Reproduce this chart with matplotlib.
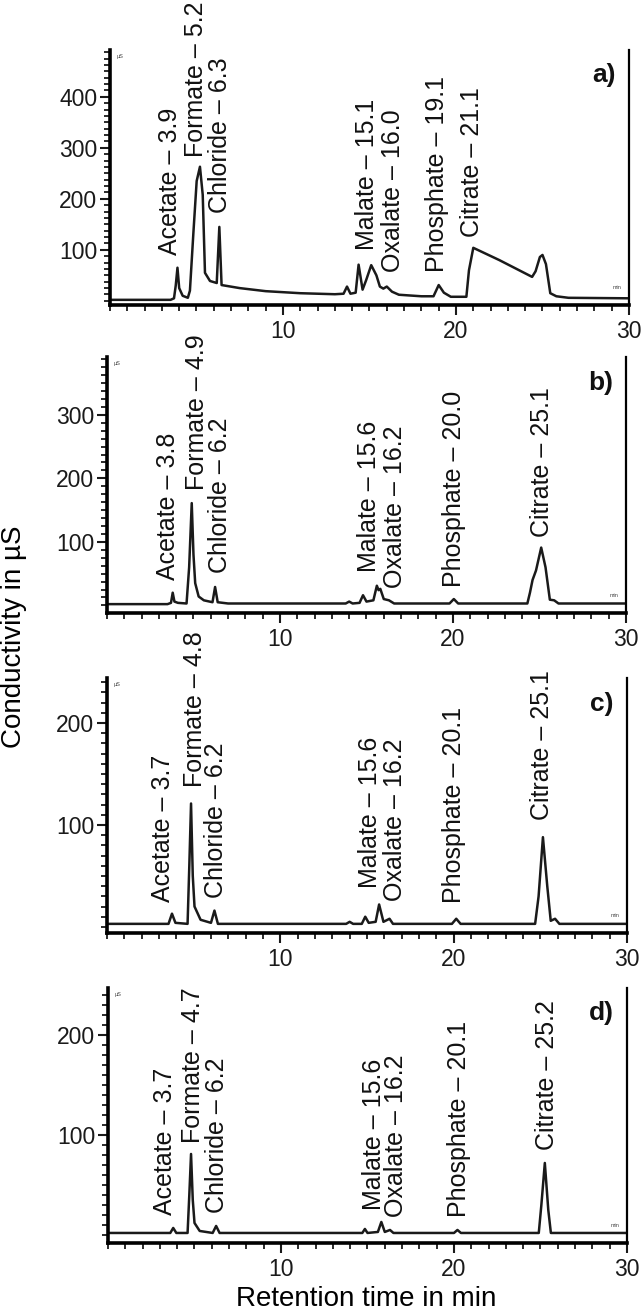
import matplotlib.pyplot as plt
from matplotlib.ticker import MultipleLocator

plt.rcParams['font.family'] = ['Liberation Sans', 'DejaVu Sans']

# trace vertices: retention time (min), conductivity (µS)
time_a = [0, 3.5, 3.7, 3.8, 3.9, 4.0, 4.2, 4.5, 4.62, 4.82, 5.01, 5.2, 5.36, 5.49,
          5.78, 6.17, 6.32, 6.45, 7.5, 9.0, 11.0, 13.0, 13.5, 13.7, 13.9, 14.2,
          14.37, 14.6, 14.8, 15.1, 15.4, 15.6, 15.8, 16.0, 16.3, 16.7, 18.0, 18.7,
          19.0, 19.3, 19.7, 20.6, 20.75, 21.0, 22.5, 24.4, 24.6, 24.85, 25.0, 25.2,
          25.45, 25.8, 26.5, 30]
cond_a = [2, 2, 5, 30, 65, 25, 10, 6, 20, 133, 235, 263, 208, 55,
          39, 35, 145, 31, 25, 19, 15, 13, 14, 28, 14, 16,
          71, 22, 40, 70, 50, 28, 24, 28, 18, 12, 9, 9,
          31, 16, 8, 8, 60, 104, 80, 47, 58, 86, 90, 72,
          15, 9, 6, 5]

time_b = [0, 3.5, 3.7, 3.8, 3.9, 4.1, 4.6, 4.75, 4.9, 5.0, 5.1, 5.3, 5.6, 6.1,
          6.25, 6.4, 7, 13.8, 14.0, 14.2, 14.6, 14.8, 15.0, 15.4, 15.6, 15.7,
          15.8, 16.0, 16.3, 16.6, 19.8, 20.05, 20.3, 24.3, 24.45, 24.6, 24.8,
          25.1, 25.35, 25.6, 25.85, 26.1, 30]
cond_b = [2, 2, 4, 20, 6, 4, 3, 60, 161, 80, 35, 14, 8, 5,
          29, 5, 3, 3, 6, 3, 4, 16, 6, 8, 31, 24,
          26, 10, 8, 3, 3, 10, 3, 3, 20, 40, 55,
          91, 60, 9, 8, 3, 3]

time_c = [0, 3.55, 3.75, 3.95, 4.65, 4.75, 4.85, 4.95, 5.05, 5.4, 6.0, 6.2, 6.4,
          13.8, 14.0, 14.2, 14.7, 14.9, 15.1, 15.5, 15.7, 15.95, 16.3, 16.5,
          19.9, 20.15, 20.4, 24.7, 24.9, 25.15, 25.4, 25.6, 25.85, 26.1, 30]
cond_c = [3, 3, 13, 4, 3, 60, 121, 50, 20, 7, 4, 16, 3,
          3, 5, 3, 3, 10, 4, 5, 22, 5, 8, 3,
          3, 8, 3, 3, 30, 88, 40, 6, 8, 3, 3]

time_d = [0, 3.6, 3.77, 3.95, 4.6, 4.7, 4.8, 4.9, 5.0, 5.3, 6.05, 6.25, 6.45,
          14.7, 14.85, 15.0, 15.6, 15.8, 16.0, 16.3, 16.5, 20.0, 20.2, 20.4,
          24.9, 25.05, 25.25, 25.45, 25.6, 30]
cond_d = [2, 2, 7, 2, 2, 40, 81, 35, 12, 4, 2, 9, 2,
          2, 6, 2, 3, 13, 3, 5, 2, 2, 5, 2,
          2, 30, 72, 25, 2, 2]

anions = ['Acetate', 'Formate', 'Chloride', 'Malate', 'Oxalate', 'Phosphate', 'Citrate']
rt_a = ['3.9', '5.2', '6.3', '15.1', '16.0', '19.1', '21.1']
rt_b = ['3.8', '4.9', '6.2', '15.6', '16.2', '20.0', '25.1']
rt_c = ['3.7', '4.8', '6.2', '15.6', '16.2', '20.1', '25.1']
rt_d = ['3.7', '4.7', '6.2', '15.6', '16.2', '20.1', '25.2']

yticks_a = [100, 200, 300, 400]
yticks_b = [100, 200, 300]
yticks_c = [100, 200]
yticks_d = [100, 200]

# layout: axes boxes, y ranges and label anchors (x, bottom of text)
panels = [
    dict(tag='a)', t=time_a, y=cond_a, rt=rt_a, yt=yticks_a,
         box=[0.1708, 0.7674, 0.8059, 0.1945], ylim=(-8, 492), minor=12.5,
         anchors=[(3.47, 90), (5.0, 282), (6.36, 172), (14.85, 100),
                  (16.35, 57), (18.9, 57), (20.95, 126)]),
    dict(tag='b)', t=time_b, y=cond_b, rt=rt_b, yt=yticks_b,
         box=[0.1661, 0.5324, 0.8059, 0.1953], ylim=(-12, 391), minor=12.5,
         anchors=[(3.53, 40), (5.2, 182), (6.53, 51), (15.15, 53),
                  (16.65, 28), (20.05, 29), (25.15, 108)]),
    dict(tag='c)', t=time_c, y=cond_c, rt=rt_c, yt=yticks_c,
         box=[0.1661, 0.2883, 0.8075, 0.1945], ylim=(-6, 244), minor=10,
         anchors=[(3.23, 24), (5.08, 137), (6.29, 28), (15.2, 38),
                  (16.6, 25), (20.0, 23), (25.1, 105)]),
    dict(tag='d)', t=time_d, y=cond_d, rt=rt_d, yt=yticks_d,
         box=[0.1677, 0.0519, 0.8059, 0.1945], ylim=(-8, 247), minor=10,
         anchors=[(3.3, 20), (4.9, 92), (6.3, 22), (15.4, 25),
                  (16.65, 18), (20.3, 18), (25.4, 85)]),
]

fig = plt.figure(figsize=(6.44, 13.11), dpi=100)

for p in panels:
    ax = fig.add_axes(p['box'])
    ax.plot(p['t'], p['y'], color='#1a1a1a', lw=1.8)
    ax.set_xlim(0, 30)
    ax.set_ylim(*p['ylim'])

    ax.spines['top'].set_visible(False)
    ax.spines['left'].set_linewidth(2.6)
    ax.spines['bottom'].set_linewidth(2.6)
    ax.spines['right'].set_linewidth(1.6)

    ax.set_xticks([10, 20, 30])
    ax.xaxis.set_minor_locator(MultipleLocator(1))
    ax.set_yticks(p['yt'])
    ax.yaxis.set_minor_locator(MultipleLocator(p['minor']))
    ax.tick_params(axis='both', which='major', labelsize=16.5, length=7, width=1.5,
                   direction='out', colors='#1a1a1a', pad=2)
    ax.tick_params(axis='both', which='minor', length=4, width=1.3, colors='#1a1a1a')
    ax.tick_params(axis='x', which='major', pad=4)

    for name, rt, (x, y) in zip(anions, p['rt'], p['anchors']):
        ax.text(x, y, f'{name} – {rt}', rotation=90, ha='center', va='bottom',
                fontsize=18, color='#111111', clip_on=False)

    ax.text(0.975, 0.9, p['tag'], transform=ax.transAxes, ha='right', va='center',
            fontsize=19, fontweight='bold', color='#111111')
    ax.text(0.012, 0.985, 'µS', transform=ax.transAxes, ha='left', va='top',
            fontsize=4, color='#444444')
    ax.text(0.985, 0.06, 'min', transform=ax.transAxes, ha='right', va='bottom',
            fontsize=4, color='#444444')

fig.text(0.022, 1 - 637 / 1311, 'Conductivity in µS', rotation=90,
         ha='center', va='center', fontsize=20)
fig.text(0.568, 1 - 1299 / 1311, 'Retention time in min',
         ha='center', va='center', fontsize=20)

fig.savefig('out.png', dpi=100)
